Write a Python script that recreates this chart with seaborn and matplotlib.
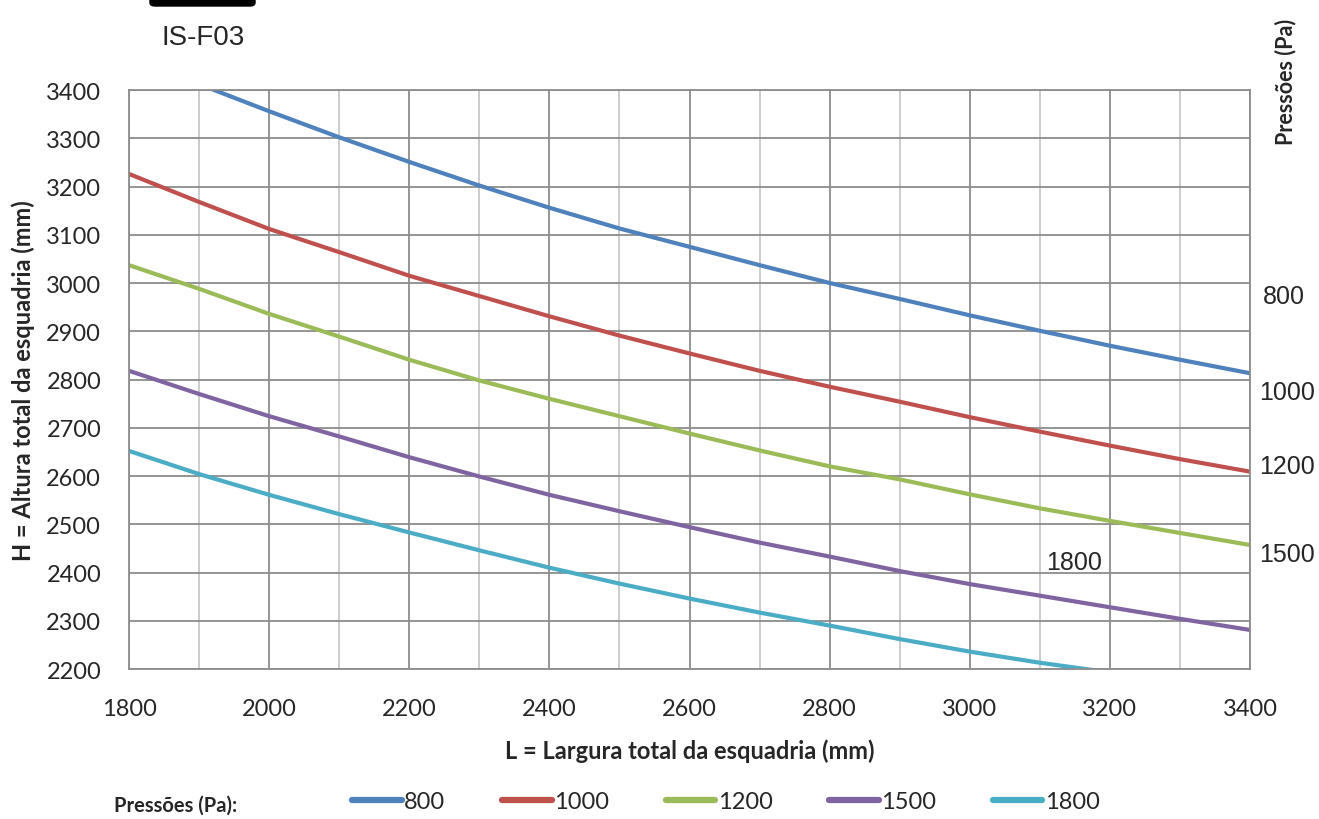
import numpy as np
import pandas as pd
import seaborn as sns
import matplotlib.pyplot as plt
from matplotlib.lines import Line2D
from matplotlib.patches import FancyBboxPatch

# L = largura (mm), one value every 100 mm
widths = [1800, 1900, 2000, 2100, 2200, 2300, 2400, 2500, 2600,
          2700, 2800, 2900, 3000, 3100, 3200, 3300, 3400]

# H = altura (mm), one list per pressure
h_800 = [np.nan, 3412, 3356, 3302, 3251, 3202, 3156, 3113, 3075,
         3037, 3000, 2967, 2933, 2901, 2870, 2841, 2813]
h_1000 = [3226, 3168, 3112, 3064, 3015, 2973, 2931, 2891, 2854,
          2818, 2785, 2754, 2722, 2692, 2663, 2635, 2609]
h_1200 = [3037, 2988, 2936, 2889, 2841, 2798, 2760, 2724, 2688,
          2653, 2620, 2593, 2562, 2533, 2507, 2482, 2457]
h_1500 = [2818, 2770, 2724, 2682, 2639, 2599, 2561, 2527, 2494,
          2462, 2433, 2403, 2376, 2352, 2328, 2304, 2281]
h_1800 = [2652, 2604, 2561, 2521, 2483, 2446, 2410, 2377, 2346,
          2317, 2290, 2262, 2236, 2213, 2193, np.nan, np.nan]

pressures = ['800', '1000', '1200', '1500', '1800']
colors = ['#4F81BD', '#C0504D', '#9BBB59', '#8064A2', '#4BACC6']

df = pd.DataFrame({
    'L': widths * 5,
    'H': h_800 + h_1000 + h_1200 + h_1500 + h_1800,
    'p': np.repeat(pressures, len(widths)),
}).dropna()

sns.set_style('white')
plt.rcParams['font.family'] = ['Lato', 'DejaVu Sans']
plain = ['Liberation Sans', 'DejaVu Sans']

W, H = 1319, 820
fig = plt.figure(figsize=(W / 100, H / 100), dpi=100)
ax = fig.add_axes([129 / W, 150 / H, 1121 / W, 579 / H])

sns.lineplot(data=df, x='L', y='H', hue='p', hue_order=pressures,
             palette=colors, lw=3, ax=ax, legend=False,
             estimator=None, sort=True)

ax.set_xlim(1800, 3400)
ax.set_ylim(2200, 3400)
ax.set_xticks(range(1800, 3401, 200))
ax.set_xticks(range(1800, 3401, 100), minor=True)
ax.set_yticks(range(2200, 3401, 100))
ax.tick_params(axis='both', which='both', length=0, labelsize=17)
ax.tick_params(axis='y', pad=20)
ax.tick_params(axis='x', pad=21)
ax.grid(which='major', color='#8c8c8c', lw=1.3)
ax.grid(which='minor', axis='x', color='#c8c8c8', lw=1.3)
ax.set_axisbelow(True)
for s in ax.spines.values():
    s.set_color('#8c8c8c')
    s.set_linewidth(1.3)

ax.set_xlabel('L = Largura total da esquadria (mm)', fontsize=17,
              fontweight='bold', labelpad=14)
ax.set_ylabel('H = Altura total da esquadria (mm)', fontsize=17,
              fontweight='bold', labelpad=8)

# header
fig.patches.append(FancyBboxPatch((150 / W, 1 - 7 / H), 105 / W, 14 / H,
                                  boxstyle='round,pad=0,rounding_size=0.004',
                                  transform=fig.transFigure, color='black'))
fig.text(203 / W, 1 - 38 / H, 'IS-F03', family=plain, fontsize=20,
         ha='center', va='center')

# right side labels
fig.text(1286 / W, 1 - 82 / H, 'Pressões (Pa)', rotation=90, fontsize=15.5,
         fontweight='bold', ha='center', va='center')
side = {'800': (1284, 297), '1000': (1287, 393), '1200': (1287, 467),
        '1500': (1287, 555), '1800': (1074, 563)}
for lab, (x, y) in side.items():
    fig.text(x / W, 1 - y / H, lab, family=plain, fontsize=18,
             ha='center', va='center')

# bottom legend
fig.text(176 / W, 1 - 806 / H, 'Pressões (Pa):', fontsize=14.5,
         fontweight='bold', ha='center', va='center')
handles = [Line2D([], [], color=c, lw=4.5, solid_capstyle='round') for c in colors]
fig.legend(handles, pressures, loc='center', bbox_to_anchor=(726 / W, 1 - 803 / H),
           ncol=5, frameon=False, fontsize=17, handlelength=2.1,
           handletextpad=0.1, columnspacing=2.4)

fig.savefig('out.png', dpi=100)
